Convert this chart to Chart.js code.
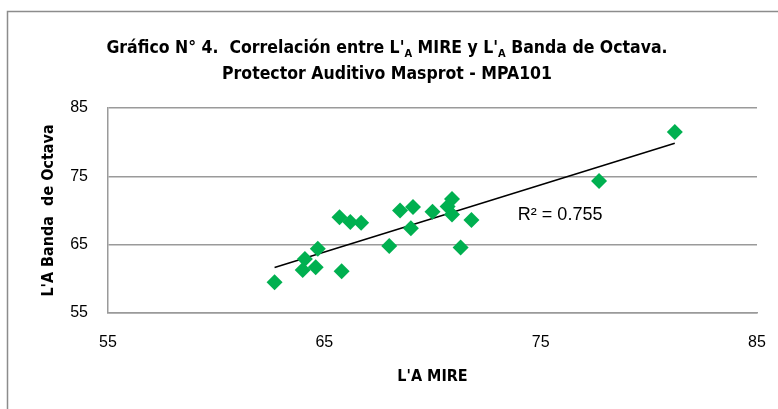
<!DOCTYPE html>
<html>
<head>
<meta charset="utf-8">
<script src="https://cdn.jsdelivr.net/npm/chart.js@4.4.1/dist/chart.umd.min.js"></script>
<style>
	html, body { margin: 0; padding: 0; background: #fff; }
	#wrap { width: 778px; height: 409px; position: relative; }
</style>
</head>
<body>
<div id="wrap"><canvas id="chart"></canvas></div>
<script>
// L'A MIRE (x) vs L'A Banda de Octava (y)
const mireValues = [62.7, 64.1, 64.0, 64.6, 64.7, 65.8, 65.7, 66.2, 66.7, 68.0, 68.5, 69.1, 69.0, 70.0, 70.9, 70.7, 70.9, 71.8, 71.3, 77.7, 81.2];
const octavaValues = [59.5, 62.9, 61.3, 61.7, 64.4, 61.1, 69.0, 68.3, 68.2, 64.8, 70.0, 70.5, 67.4, 69.8, 71.7, 70.6, 69.4, 68.6, 64.6, 74.3, 81.5];
const axisTicks = [55, 65, 75, 85];
const r2Label = 'R² = 0.755';
const titleLine1 = [["Gráfico N° 4.  Correlación entre L'", false], ['A', true], [" MIRE y L'", false], ['A', true], [' Banda de Octava.', false]];
const titleLine2 = [['Protector Auditivo Masprot - MPA101', false]];
const xTitle = "L'A MIRE";
const yTitle = "L'A Banda  de Octava";

(function () {
	'use strict';

	const narrow = "'Liberation Sans Narrow', 'DejaVu Sans Condensed', sans-serif";
	const regular = "'Liberation Sans', Arial, sans-serif";
	const gridGray = '#9a9a9a';

	// least squares trend line over the data
	const n = mireValues.length;
	let sx = 0, sy = 0, sxx = 0, sxy = 0;
	for (let i = 0; i < n; i++) {
		sx += mireValues[i];
		sy += octavaValues[i];
		sxx += mireValues[i] * mireValues[i];
		sxy += mireValues[i] * octavaValues[i];
	}
	const slope = (n * sxy - sx * sy) / (n * sxx - sx * sx);
	const intercept = (sy - slope * sx) / n;
	const xMin = Math.min.apply(null, mireValues);
	const xMax = Math.max.apply(null, mireValues);

	const points = mireValues.map(function (x, i) { return { x: x, y: octavaValues[i] }; });
	const trend = [
		{ x: xMin, y: intercept + slope * xMin },
		{ x: xMax, y: intercept + slope * xMax }
	];

	const decorations = {
		id: 'decorations',
		afterDraw(chart) {
			const ctx = chart.ctx;
			ctx.save();
			// outer frame
			ctx.strokeStyle = '#8c8c8c';
			ctx.lineWidth = 1.5;
			ctx.strokeRect(7.5, 11.5, 900, 600);

			// title with subscripts
			function drawLine(parts, y) {
				const big = 'bold 17.5px ' + narrow;
				const small = 'bold 11px ' + narrow;
				let w = 0;
				parts.forEach(function (p) {
					ctx.font = p[1] ? small : big;
					w += ctx.measureText(p[0]).width;
				});
				let x = 387 - w / 2;
				ctx.fillStyle = '#000';
				ctx.textAlign = 'left';
				ctx.textBaseline = 'alphabetic';
				parts.forEach(function (p) {
					ctx.font = p[1] ? small : big;
					ctx.fillText(p[0], x, p[1] ? y + 4 : y);
					x += ctx.measureText(p[0]).width;
				});
			}
			drawLine(titleLine1, 53);
			drawLine(titleLine2, 79);

			// R² label
			const xs = chart.scales.x, ys = chart.scales.y;
			ctx.font = '18px ' + regular;
			ctx.fillStyle = '#000';
			ctx.textAlign = 'center';
			ctx.textBaseline = 'middle';
			ctx.fillText(r2Label, xs.getPixelForValue(75.9), ys.getPixelForValue(69.4));
			ctx.restore();
		}
	};

	new Chart(document.getElementById('chart'), {
		type: 'scatter',
		data: {
			datasets: [
				{
					data: points,
					pointStyle: 'rectRot',
					pointRadius: 8,
					pointHoverRadius: 8,
					backgroundColor: '#00b050',
					borderColor: '#00b050',
					borderWidth: 0,
					order: 1
				},
				{
					type: 'line',
					data: trend,
					borderColor: '#000',
					borderWidth: 1.5,
					pointRadius: 0,
					fill: false,
					order: 2
				}
			]
		},
		options: {
			responsive: true,
			maintainAspectRatio: false,
			animation: false,
			layout: { padding: { left: 0, right: 21, top: 108, bottom: 0 } },
			plugins: {
				legend: false,
				tooltip: { enabled: false }
			},
			scales: {
				x: {
					type: 'linear',
					min: 55,
					max: 85,
					afterBuildTicks: function (scale) {
						scale.ticks = axisTicks.map(function (v) { return { value: v }; });
					},
					afterFit: function (scale) {
						scale.height = 96;
						scale.paddingLeft = 0;
						scale.paddingRight = 0;
					},
					grid: { display: false, drawTicks: false },
					border: { display: true, color: gridGray, width: 1.5 },
					ticks: {
						color: '#000',
						font: { family: regular, size: 16 },
						padding: 20,
						maxRotation: 0
					},
					title: {
						display: true,
						text: xTitle,
						color: '#000',
						font: { family: narrow, size: 16, weight: 'bold' },
						padding: { top: 0, bottom: 23 }
					}
				},
				y: {
					type: 'linear',
					min: 55,
					max: 85,
					afterBuildTicks: function (scale) {
						scale.ticks = axisTicks.map(function (v) { return { value: v }; });
					},
					afterFit: function (scale) {
						scale.width = 108;
						scale.paddingTop = 0;
						scale.paddingBottom = 0;
					},
					grid: { color: gridGray, lineWidth: 1.5, drawTicks: false },
					border: { display: true, color: gridGray, width: 1.5 },
					ticks: {
						color: '#000',
						font: { family: regular, size: 16 },
						padding: 20
					},
					title: {
						display: true,
						text: yTitle,
						color: '#000',
						font: { family: narrow, size: 16, weight: 'bold' },
						padding: { top: 39, bottom: 0 }
					}
				}
			}
		},
		plugins: [decorations]
	});
})();
</script>
</body>
</html>
